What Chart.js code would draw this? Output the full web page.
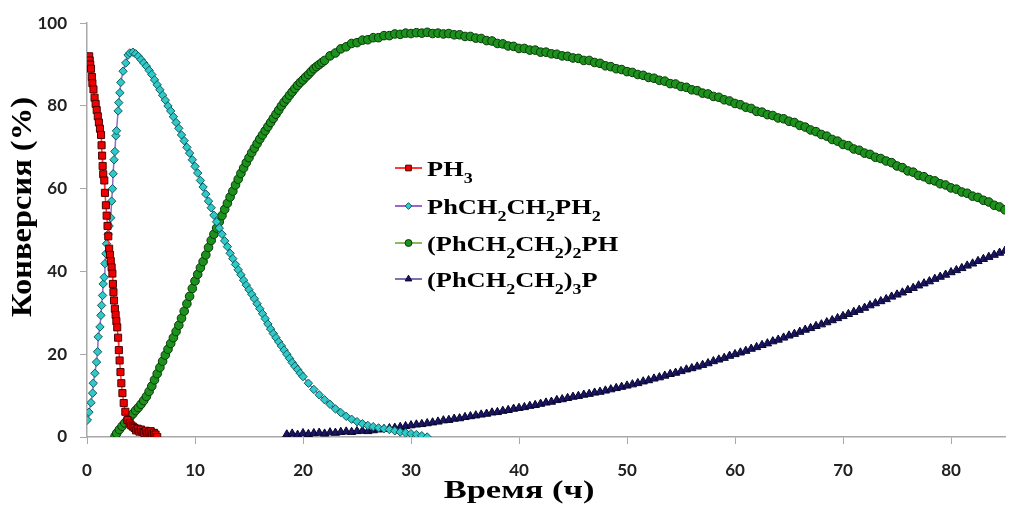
<!DOCTYPE html>
<html>
<head>
<meta charset="utf-8">
<script src="https://cdn.jsdelivr.net/npm/chart.js@4.4.0/dist/chart.umd.min.js"></script>
<style>
  body { margin: 0; background: #fff; }
  #wrap { width: 1011px; height: 506px; position: relative; }
</style>
</head>
<body>
<div id="wrap"><canvas id="my-chart"></canvas></div>
<script>
'use strict';

// Data: [time (h), conversion (%)]
let ph3Pts = [
  [0.2, 92], [0.25, 91], [0.3, 90], [0.37, 89], [0.45, 87], [0.5, 85.5], [0.6, 84], [0.7, 82],
  [0.8, 80.5], [0.9, 79], [1.0, 77.5], [1.1, 76], [1.2, 74.5], [1.3, 73], [1.35, 70.5], [1.4, 68],
  [1.45, 65.5], [1.5, 63.5], [1.6, 62], [1.66, 59], [1.75, 56], [1.82, 53.5], [1.9, 51], [1.97, 48.5],
  [2.05, 45.5], [2.13, 44], [2.2, 42.5], [2.28, 41], [2.35, 39.5], [2.4, 37], [2.45, 35], [2.5, 33],
  [2.58, 31], [2.65, 29.5], [2.72, 28], [2.8, 26.5], [2.88, 24], [2.95, 21], [3.02, 18.5], [3.1, 15.7],
  [3.18, 13], [3.28, 10.6], [3.4, 8.2], [3.55, 6.1], [3.75, 4.1], [3.95, 3.3], [4.1, 2.8], [4.25, 2.5],
  [4.4, 2.2], [4.55, 1.6], [4.7, 2.0], [4.85, 1.3], [5.0, 1.8], [5.15, 1.2], [5.3, 1.0], [5.45, 1.5],
  [5.6, 0.9], [5.75, 1.3], [5.9, 1.4], [6.05, 0.8], [6.2, 1.0], [6.35, 0.6], [6.5, 0]
];

let monoPts = [
  [0.03, 4.1], [0.18, 6], [0.37, 8.3], [0.52, 10.6], [0.58, 13], [0.73, 15.4], [0.88, 18.1], [0.98, 20.6],
  [1.04, 24.2], [1.2, 26.6], [1.29, 29.4], [1.35, 31.8], [1.44, 34.2], [1.5, 37], [1.59, 38.6], [1.66, 41.9],
  [1.75, 44.3], [1.81, 46.7], [1.96, 49], [2.05, 51], [2.2, 53], [2.28, 57], [2.36, 60], [2.42, 63.6],
  [2.5, 67], [2.58, 69], [2.67, 72.8], [2.73, 74], [2.88, 78.8], [2.94, 80.8], [3.04, 83.2], [3.13, 85.7],
  [3.34, 88.4], [3.59, 90.4], [3.8, 92.3], [3.96, 92.8],
  [4.25, 93.0], [4.5, 92.6], [4.75, 92.0], [5.0, 91.2], [5.25, 90.4], [5.5, 89.6], [5.75, 88.6], [6.0, 87.6],
  [6.25, 86.3], [6.5, 85.1], [6.75, 83.9], [7.0, 82.6], [7.25, 81.4], [7.5, 80.0], [7.75, 78.8], [8.0, 77.4],
  [8.25, 76.0], [8.5, 74.6], [8.75, 73.0], [9.0, 71.6], [9.25, 70.0], [9.5, 68.6], [9.75, 67.0], [10.0, 65.4],
  [10.25, 63.8], [10.5, 62.0], [10.75, 60.4], [11.0, 58.7], [11.25, 57.0], [11.5, 55.4], [11.75, 53.6], [12.0, 52.0],
  [12.25, 50.5], [12.5, 49.0], [12.75, 47.4], [13.0, 46.0], [13.25, 44.4], [13.5, 43.1], [13.75, 41.7], [14.0, 40.4],
  [14.25, 39.2], [14.5, 37.9], [14.75, 36.7], [15.0, 35.6], [15.25, 34.5], [15.5, 33.4], [15.75, 32.2], [16.0, 31.0],
  [16.25, 29.8], [16.5, 28.6], [16.75, 27.3], [17.0, 26.1], [17.25, 25.0], [17.5, 24.0], [17.75, 23.0], [18.0, 22.0],
  [18.25, 21.0], [18.5, 20.0], [18.75, 19.0], [19.0, 18.0], [19.25, 17.1], [19.5, 16.3], [19.75, 15.4], [20.0, 14.6],
  [20.5, 13.0], [21.0, 11.5], [21.5, 10.2], [22.0, 9.0], [22.5, 7.9], [23.0, 6.8], [23.5, 5.9], [24.0, 5.0],
  [24.5, 4.3], [25.0, 3.7], [25.5, 3.2], [26.0, 2.8], [26.5, 2.5], [27.0, 2.2], [27.5, 2.0], [28.0, 1.8],
  [28.5, 1.5], [29.0, 1.2], [29.5, 1.0], [30.0, 0.8], [30.5, 0.6], [31.0, 0.3], [31.5, 0]
];

let diPts = [
  [2.6, 0.2], [2.75, 0.9], [3.0, 1.8], [3.25, 2.6], [3.5, 3.4], [3.75, 4.1], [4.0, 4.9], [4.25, 5.6],
  [4.5, 6.4], [4.75, 7.1], [5.0, 7.9], [5.25, 8.8], [5.5, 9.8], [5.75, 11.0], [6.0, 12.3], [6.25, 13.8],
  [6.5, 15.3], [6.75, 16.8], [7.0, 18.3], [7.25, 19.8], [7.5, 21.2], [7.75, 22.6], [8.0, 24.0], [8.25, 25.5],
  [8.5, 27.0], [8.75, 28.7], [9.0, 30.4], [9.25, 32.2], [9.5, 34.0], [9.75, 35.9], [10.0, 37.7], [10.25, 39.3],
  [10.5, 40.9], [10.75, 42.4], [11.0, 44.0], [11.25, 45.8], [11.5, 47.5], [11.75, 49.0], [12.0, 50.5], [12.25, 52.0],
  [12.5, 53.5], [12.75, 55.0], [13.0, 56.5], [13.25, 58.0], [13.5, 59.4], [13.75, 60.9], [14.0, 62.3], [14.25, 63.7],
  [14.5, 65.0], [14.75, 66.3], [15.0, 67.5], [15.25, 68.7], [15.5, 69.8], [15.75, 70.9], [16.0, 72.0], [16.25, 73.0],
  [16.5, 74.0], [16.75, 75.0], [17.0, 76.0], [17.25, 77.0], [17.5, 78.0], [17.75, 79.0], [18.0, 80.0], [18.25, 80.9],
  [18.5, 81.7], [18.75, 82.6], [19.0, 83.4], [19.25, 84.2], [19.5, 85.0], [19.75, 85.7], [20.0, 86.3], [20.25, 87.0],
  [20.5, 87.6], [20.75, 88.3], [21.0, 89.0], [21.25, 89.5], [21.5, 90.0], [21.75, 90.5], [22.0, 91.0],
  [22.5, 92.1], [23.0, 92.8], [23.5, 93.8], [24.0, 94.3], [24.5, 95.1], [25.0, 95.3], [25.5, 95.9], [26.0, 96.0],
  [26.5, 96.5], [27.0, 96.5], [27.5, 97.0], [28.0, 97.0], [28.5, 97.4], [29.0, 97.3], [29.5, 97.6], [30.0, 97.5],
  [30.5, 97.7], [31.0, 97.6], [31.5, 97.8], [32.0, 97.5], [32.5, 97.6], [33.0, 97.4], [33.5, 97.5], [34.0, 97.2],
  [34.5, 97.2], [35.0, 96.8], [35.5, 96.8], [36.0, 96.4], [36.5, 96.3], [37.0, 95.8], [37.5, 95.7], [38.0, 95.1],
  [38.5, 95.0], [39.0, 94.5], [39.5, 94.4], [40.0, 93.9], [40.5, 93.9], [41.0, 93.5], [41.5, 93.5], [42.0, 93.0],
  [42.5, 93.0], [43.0, 92.6], [43.5, 92.5], [44.0, 92.1], [44.5, 92.0], [45.0, 91.6], [45.5, 91.5], [46.0, 91.0],
  [46.5, 91.0], [47.0, 90.5], [47.5, 90.3], [48.0, 89.7], [48.5, 89.5], [49.0, 89.0], [49.5, 88.8], [50.0, 88.3],
  [50.5, 88.1], [51.0, 87.6], [51.5, 87.4], [52.0, 86.9], [52.5, 86.7], [53.0, 86.2], [53.5, 86.0], [54.0, 85.4],
  [54.5, 85.3], [55.0, 84.7], [55.5, 84.5], [56.0, 83.9], [56.5, 83.7], [57.0, 83.1], [57.5, 82.9], [58.0, 82.3],
  [58.5, 82.1], [59.0, 81.5], [59.5, 81.2], [60.0, 80.6], [60.5, 80.3], [61.0, 79.7], [61.5, 79.4], [62.0, 78.7],
  [62.5, 78.5], [63.0, 77.9], [63.5, 77.7], [64.0, 77.1], [64.5, 76.9], [65.0, 76.3], [65.5, 76.0], [66.0, 75.3],
  [66.5, 74.9], [67.0, 74.2], [67.5, 73.8], [68.0, 73.1], [68.5, 72.7], [69.0, 71.9], [69.5, 71.5], [70.0, 70.7],
  [70.5, 70.4], [71.0, 69.6], [71.5, 69.3], [72.0, 68.6], [72.5, 68.3], [73.0, 67.6], [73.5, 67.3], [74.0, 66.7],
  [74.5, 66.3], [75.0, 65.5], [75.5, 65.1], [76.0, 64.3], [76.5, 64.0], [77.0, 63.2], [77.5, 62.9], [78.0, 62.2],
  [78.5, 61.9], [79.0, 61.2], [79.5, 60.9], [80.0, 60.2], [80.5, 59.9], [81.0, 59.2], [81.5, 58.9], [82.0, 58.2],
  [82.5, 57.9], [83.0, 57.2], [83.5, 56.8], [84.0, 56.0], [84.5, 55.6], [85.0, 54.9]
];

let triPts = [
  [18.5, 0.6], [19, 0.8], [19.5, 0.5], [20, 0.9], [20.5, 0.7], [21, 0.9], [21.5, 1.0], [22, 0.8],
  [22.5, 1.1], [23, 1.0], [23.5, 1.2], [24, 1.3], [24.5, 1.2], [25, 1.4], [25.5, 1.5], [26, 1.4],
  [26.5, 1.6], [27, 1.8], [27.5, 1.9], [28, 2.1], [28.5, 2.2], [29, 2.4], [29.5, 2.6], [30, 2.8],
  [30.5, 3.0], [31, 3.1], [31.5, 3.3], [32, 3.5], [32.5, 3.7], [33, 4.0], [33.5, 4.1], [34, 4.4],
  [34.5, 4.5], [35, 4.8], [35.5, 5.0], [36, 5.2], [36.5, 5.4], [37, 5.6], [37.5, 5.9], [38, 6.0],
  [38.5, 6.3], [39, 6.5], [39.5, 6.8], [40, 7.0], [40.5, 7.2], [41, 7.5], [41.5, 7.7], [42, 8.0],
  [42.5, 8.3], [43, 8.5], [43.5, 8.9], [44, 9.1], [44.5, 9.4], [45, 9.7], [45.5, 9.9], [46, 10.2],
  [46.5, 10.4], [47, 10.7], [47.5, 10.9], [48, 11.2], [48.5, 11.5], [49, 11.8], [49.5, 12.1], [50, 12.4],
  [50.5, 12.7], [51, 13.0], [51.5, 13.4], [52, 13.7], [52.5, 14.1], [53, 14.4], [53.5, 14.8], [54, 15.2],
  [54.5, 15.5], [55, 15.9], [55.5, 16.3], [56, 16.6], [56.5, 17.0], [57, 17.4], [57.5, 17.8], [58, 18.3],
  [58.5, 18.7], [59, 19.1], [59.5, 19.6], [60, 20.0], [60.5, 20.4], [61, 20.8], [61.5, 21.3], [62, 21.7],
  [62.5, 22.2], [63, 22.6], [63.5, 23.1], [64, 23.5], [64.5, 24.0], [65, 24.5], [65.5, 24.9], [66, 25.4],
  [66.5, 25.9], [67, 26.3], [67.5, 26.8], [68, 27.2], [68.5, 27.7], [69, 28.2], [69.5, 28.7], [70, 29.2],
  [70.5, 29.7], [71, 30.2], [71.5, 30.7], [72, 31.2], [72.5, 31.8], [73, 32.3], [73.5, 32.8], [74, 33.3],
  [74.5, 33.9], [75, 34.4], [75.5, 34.9], [76, 35.5], [76.5, 36.0], [77, 36.6], [77.5, 37.1], [78, 37.6],
  [78.5, 38.2], [79, 38.7], [79.5, 39.2], [80, 39.8], [80.5, 40.3], [81, 40.8], [81.5, 41.4], [82, 41.9],
  [82.5, 42.5], [83, 43.0], [83.5, 43.5], [84, 44.0], [84.5, 44.5], [85, 45.0]
];

// Legend labels as runs of [text, isSubscript]
let legendLabels = [
  [['PH', 0], ['3', 1]],
  [['PhCH', 0], ['2', 1], ['CH', 0], ['2', 1], ['PH', 0], ['2', 1]],
  [['(PhCH', 0], ['2', 1], ['CH', 0], ['2', 1], [')', 0], ['2', 1], ['PH', 0]],
  [['(PhCH', 0], ['2', 1], ['CH', 0], ['2', 1], [')', 0], ['3', 1], ['P', 0]]
];
let yTitle = 'Конверсия (%)';
let xTitle = 'Время (ч)';

// Styles
let styles = [
  { line: '#FF3838', fill: '#F00000', border: '#4A0000', shape: 'rect', r: 5 },
  { line: '#9A66CC', fill: '#30C8C8', border: '#0F5C5C', shape: 'rectRot', r: 4.2 },
  { line: '#8DBA5A', fill: '#1C921C', border: '#083808', shape: 'circle', r: 4.3 },
  { line: '#7F6FB5', fill: '#1B1464', border: '#07072E', shape: 'triangle', r: 4.8 }
];

function toXY(arr) {
  return arr.map(p => ({ x: p[0], y: p[1] }));
}

function makeSet(label, pts, st) {
  return {
    label: label,
    data: toXY(pts),
    borderColor: st.line,
    borderWidth: 1.5,
    backgroundColor: st.fill,
    pointBackgroundColor: st.fill,
    pointBorderColor: st.border,
    pointBorderWidth: 1,
    pointStyle: st.shape,
    pointRadius: st.r,
    tension: 0
  };
}

// draws text with subscripts, stretched horizontally
function drawRuns(ctx, runs, x, y, size, stretch) {
  ctx.save();
  ctx.translate(x, y);
  ctx.scale(stretch, 1);
  ctx.textBaseline = 'alphabetic';
  ctx.textAlign = 'left';
  ctx.fillStyle = '#000';
  let cx = 0;
  for (let r of runs) {
    let sub = r[1];
    ctx.font = 'bold ' + (sub ? Math.round(size * 0.7) : size) + 'px "Liberation Serif"';
    ctx.fillText(r[0], cx, sub ? size * 0.3 : 0);
    cx += ctx.measureText(r[0]).width;
  }
  ctx.restore();
}

function drawMarker(ctx, st, x, y) {
  ctx.save();
  ctx.fillStyle = st.fill;
  ctx.strokeStyle = st.border;
  ctx.lineWidth = 1;
  ctx.beginPath();
  let r = st.r;
  if (st.shape === 'rect') {
    let s = r * Math.SQRT1_2;
    ctx.rect(x - s, y - s, 2 * s, 2 * s);
  } else if (st.shape === 'rectRot') {
    ctx.moveTo(x - r, y); ctx.lineTo(x, y - r); ctx.lineTo(x + r, y); ctx.lineTo(x, y + r); ctx.closePath();
  } else if (st.shape === 'circle') {
    ctx.arc(x, y, r, 0, Math.PI * 2);
  } else {
    ctx.moveTo(x, y - r); ctx.lineTo(x + r * 0.866, y + r * 0.5); ctx.lineTo(x - r * 0.866, y + r * 0.5); ctx.closePath();
  }
  ctx.fill();
  ctx.stroke();
  ctx.restore();
}

let extrasPlugin = {
  id: 'extras',
  afterDraw(chart) {
    let ctx = chart.ctx;
    // legend
    let rowY = [168, 206, 243, 279];
    for (let i = 0; i < legendLabels.length; i++) {
      let st = styles[i];
      ctx.save();
      ctx.strokeStyle = st.line;
      ctx.lineWidth = 2;
      ctx.beginPath();
      ctx.moveTo(395, rowY[i]);
      ctx.lineTo(422, rowY[i]);
      ctx.stroke();
      ctx.restore();
      drawMarker(ctx, { ...st, r: st.r * 0.8 }, 408.5, rowY[i]);
      drawRuns(ctx, legendLabels[i], 427, rowY[i] + 8, 22, 1.2);
    }
    // axis titles
    ctx.save();
    ctx.fillStyle = '#000';
    ctx.font = 'bold 25px "Liberation Serif"';
    ctx.textAlign = 'center';
    ctx.textBaseline = 'middle';
    ctx.save();
    ctx.translate(519, 492);
    ctx.scale(1.38, 1);
    ctx.fillText(xTitle, 0, 0);
    ctx.restore();
    ctx.save();
    ctx.translate(23, 207);
    ctx.rotate(-Math.PI / 2);
    ctx.scale(1.3, 1.2);
    ctx.fillText(yTitle, 0, 0);
    ctx.restore();
    ctx.restore();
  }
};

let tickFont = { family: 'Lato', size: 17, weight: 'bold' };
let axisGray = '#A8A8A8';

let canvasElem = document.getElementById('my-chart');

new Chart(canvasElem, {
  type: 'line',
  data: {
    datasets: [
      makeSet('PH3', ph3Pts, styles[0]),
      makeSet('PhCH2CH2PH2', monoPts, styles[1]),
      makeSet('(PhCH2CH2)2PH', diPts, styles[2]),
      makeSet('(PhCH2CH2)3P', triPts, styles[3])
    ]
  },
  options: {
    responsive: true,
    maintainAspectRatio: false,
    animation: false,
    devicePixelRatio: 1,
    layout: { padding: { top: 22, right: 0, left: 0, bottom: 0 } },
    plugins: {
      legend: { display: false },
      tooltip: { enabled: false }
    },
    scales: {
      x: {
        type: 'linear',
        min: 0,
        max: 85,
        ticks: { stepSize: 10, includeBounds: false, padding: 16, color: '#222', font: tickFont, maxRotation: 0 },
        grid: { drawOnChartArea: false, drawTicks: true, tickLength: 7, color: axisGray },
        border: { color: axisGray, width: 1.5 },
        afterFit(scale) { scale.height = 69; }
      },
      y: {
        min: 0,
        max: 100,
        ticks: { stepSize: 20, padding: 13, color: '#222', font: tickFont },
        grid: { drawOnChartArea: false, drawTicks: true, tickLength: 7, color: axisGray },
        border: { color: axisGray, width: 1.5 },
        afterFit(scale) { scale.width = 87; }
      }
    }
  },
  plugins: [extrasPlugin]
});
</script>
</body>
</html>
